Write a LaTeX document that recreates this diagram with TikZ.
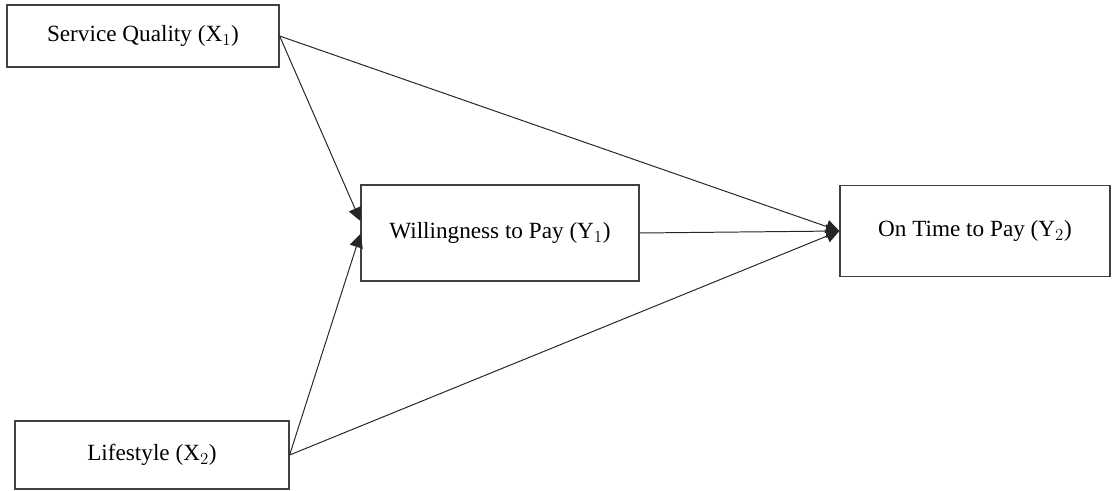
\documentclass[tikz,border=0pt]{standalone}
\usepackage{fontspec}
\setmainfont{Liberation Serif}
\usetikzlibrary{arrows.meta, calc, positioning}

\begin{document}
\begin{tikzpicture}[x=0.025cm, y=-0.025cm,
    varbox/.style={draw=black!75, line width=0.8pt, fill=white, inner sep=0pt,
        font=\fontsize{16.5}{19}\selectfont},
    path/.style={draw=black!85, line width=0.7pt, -{Triangle[length=9.5pt,width=9.5pt]}}]

            % Bounding box
            \useasboundingbox (0,0) rectangle (1115,491);

            % Variable boxes
            \node[varbox, minimum width=6.8cm, minimum height=1.55cm] (SQ) at (143,36) {Service Quality (X$_1$)};
            \node[varbox, minimum width=6.85cm, minimum height=1.7cm] (LS) at (152,455) {Lifestyle (X$_2$)};
            \node[varbox, minimum width=6.95cm, minimum height=2.4cm] (WTP) at (500,233) {Willingness to Pay (Y$_1$)};
            \node[varbox, minimum width=6.75cm, minimum height=2.275cm] (OTP) at (975,231) {On Time to Pay (Y$_2$)};

            % Entry points on the mediator
            \coordinate (WTPa) at ($(WTP.west)+(0,-12)$);
            \coordinate (WTPb) at ($(WTP.west)+(0,1)$);

            % Paths to the mediator
            \draw[path] (SQ.east) -- (WTPa);
            \draw[path] (LS.east) -- (WTPb);

            % Paths to the outcome
            \draw[path] (SQ.east) -- (OTP.west);
            \draw[path] (LS.east) -- (OTP.west);
            \draw[path] (WTP.east) -- (OTP.west);

            \end{tikzpicture}
\end{document}
